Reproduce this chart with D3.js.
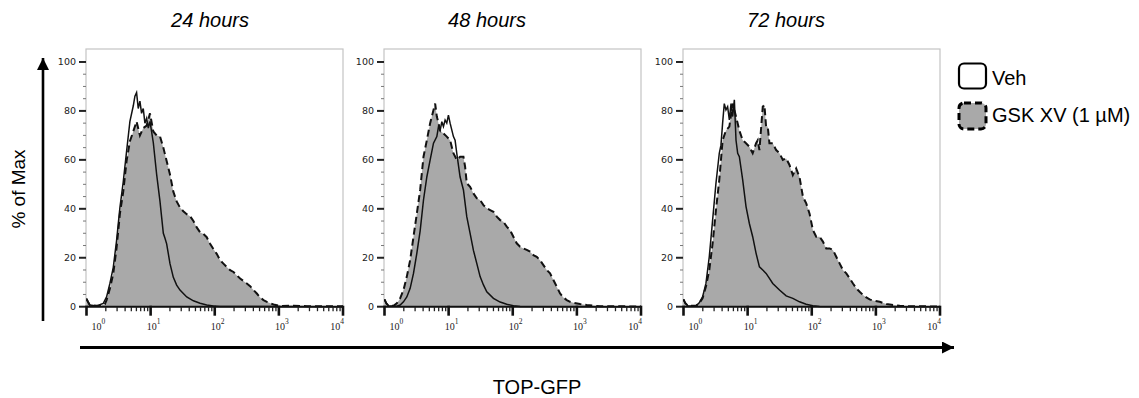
<!DOCTYPE html>
<html>
<head>
<meta charset="utf-8">
<script src="https://cdn.jsdelivr.net/npm/d3@7/dist/d3.min.js"></script>
<style>
  body { margin: 0; background: #fff; }
  svg { display: block; }
</style>
</head>
<body>
<svg id="chart" width="1139" height="398"></svg>
<script>
// time points (one panel each)
const timePoints = ["24 hours", "48 hours", "72 hours"];
const seriesNames = ["Veh", "GSK XV (1 \u00b5M)"];
const yTicks = [0, 20, 40, 60, 80, 100];
const xDecades = [0, 1, 2, 3, 4];

// histograms: [log10 TOP-GFP, % of Max]
const veh24 = [[0,3.4],[0.026,2],[0.052,0.7],[0.156,0.3],[0.26,1.3],[0.313,4],[0.365,9.5],[0.417,16],[0.469,27],[0.521,40.5],[0.573,51],[0.625,63.5],[0.677,75.7],[0.729,82],[0.755,86],[0.781,87.5],[0.807,81],[0.833,84],[0.859,79],[0.885,81],[0.911,75],[0.938,77],[0.964,73],[0.99,75.7],[1.042,67],[1.094,54],[1.146,43],[1.172,36.5],[1.198,30],[1.224,28],[1.25,25.7],[1.302,17.6],[1.354,12],[1.406,8.8],[1.458,6.8],[1.563,4],[1.667,2.4],[1.771,1.4],[1.875,0.7],[1.979,0.3],[2.083,0.1],[4,0]];
const gsk24 = [[0,3],[0.026,1.8],[0.052,0.6],[0.208,0.3],[0.286,1],[0.313,2.7],[0.365,7.4],[0.417,13.5],[0.469,24],[0.521,38],[0.573,47],[0.625,59.5],[0.677,67.6],[0.729,71.6],[0.781,75.7],[0.833,70],[0.885,73],[0.938,74],[0.99,79],[1.042,71.6],[1.094,70],[1.146,69.6],[1.198,65],[1.25,59.5],[1.302,54],[1.354,47],[1.406,43],[1.458,40.5],[1.51,39],[1.563,37.8],[1.615,37],[1.667,35],[1.719,32.4],[1.771,30.4],[1.823,29.7],[1.875,28.4],[1.927,25.7],[1.979,23.6],[2.031,21.6],[2.083,19],[2.135,17.6],[2.188,16.2],[2.24,14.9],[2.292,14.2],[2.344,12.8],[2.396,11.5],[2.448,10.5],[2.5,9.5],[2.552,8.4],[2.604,6.8],[2.656,5.4],[2.708,3.8],[2.76,2.7],[2.813,2],[2.865,1.4],[2.917,0.9],[3.021,0.3],[3.229,0.4],[3.438,0.2],[4,0.2]];
const veh48 = [[0,3],[0.026,1.5],[0.062,0.4],[0.192,0.2],[0.244,0.7],[0.296,2],[0.348,4],[0.4,7.5],[0.452,13.6],[0.504,21.8],[0.556,31],[0.608,43.6],[0.66,53],[0.712,60],[0.764,66.8],[0.816,69.5],[0.842,73.6],[0.868,72],[0.894,75.6],[0.919,73.6],[0.945,76.3],[0.971,75],[0.997,78.3],[1.023,75],[1.075,69.5],[1.101,68],[1.127,62.7],[1.179,53],[1.231,47.7],[1.283,36.8],[1.335,30],[1.387,23],[1.439,17.7],[1.491,12.3],[1.543,8.9],[1.595,6.1],[1.699,3.4],[1.803,1.9],[1.906,1],[2.01,0.4],[2.114,0.1],[4,0]];
const gsk48 = [[0,3],[0.026,1.5],[0.062,0.4],[0.14,0.4],[0.192,1.4],[0.244,3.4],[0.296,6.8],[0.348,12.3],[0.4,19],[0.452,28.6],[0.504,38],[0.556,47.7],[0.608,61.3],[0.66,68],[0.712,75],[0.764,80.4],[0.79,83],[0.816,77.7],[0.842,75],[0.868,72],[0.919,70.8],[0.971,69.5],[1.023,68],[1.075,62.7],[1.127,60],[1.179,61.3],[1.231,61.3],[1.257,57.2],[1.283,50.4],[1.335,49],[1.387,46.3],[1.439,44.3],[1.491,43.6],[1.543,41.5],[1.595,40.2],[1.647,39.5],[1.699,38.8],[1.751,36.8],[1.803,35.4],[1.855,34.7],[1.906,32.7],[1.958,31.3],[2.01,28.6],[2.062,25.9],[2.114,24.5],[2.166,23.8],[2.218,23.2],[2.27,22.5],[2.322,21.1],[2.374,20.4],[2.426,19],[2.478,17],[2.53,15],[2.582,13.6],[2.634,10.9],[2.686,8.2],[2.738,5.4],[2.79,3.8],[2.842,2.7],[2.894,2],[2.946,1.6],[3.049,1.1],[3.153,0.7],[3.257,0.4],[3.361,0.2],[4,0.1]];
const veh72 = [[0,3],[0.026,1.5],[0.068,0.4],[0.193,0.3],[0.245,1.6],[0.297,4],[0.35,9.5],[0.402,20.4],[0.454,35.4],[0.506,50.4],[0.558,62.7],[0.584,66],[0.61,75],[0.636,83],[0.662,80.4],[0.688,81.7],[0.715,76.3],[0.741,83],[0.767,77.7],[0.793,84.5],[0.819,68],[0.845,62.7],[0.871,61.3],[0.923,51.8],[0.975,40.9],[1.027,34],[1.079,28.6],[1.132,21.8],[1.184,16.3],[1.236,15],[1.288,13.6],[1.34,11.6],[1.392,9.5],[1.497,6.8],[1.601,4.4],[1.705,3.4],[1.809,2],[1.913,1],[2.017,0.4],[2.121,0.1],[4,0]];
const gsk72 = [[0,3],[0.026,1.5],[0.068,0.4],[0.193,0.4],[0.245,1.4],[0.297,3.4],[0.35,8.2],[0.402,15],[0.454,25.9],[0.506,39.5],[0.558,51.8],[0.61,68],[0.662,72],[0.715,73.6],[0.767,83],[0.819,77.7],[0.871,72],[0.923,68],[0.975,66.8],[1.027,65.4],[1.079,62.7],[1.132,66.8],[1.158,68],[1.184,64],[1.236,81.7],[1.262,82.4],[1.288,73.6],[1.314,73.6],[1.34,66.8],[1.392,66.8],[1.445,64],[1.497,62.7],[1.549,60],[1.601,60.6],[1.653,57.9],[1.705,53.8],[1.757,56.5],[1.809,53],[1.862,45],[1.914,42.2],[1.966,38],[2.018,31.3],[2.07,28.6],[2.122,28.6],[2.174,26.6],[2.226,23.8],[2.278,23.8],[2.33,23.2],[2.382,20.4],[2.434,17.7],[2.486,15],[2.539,13.6],[2.591,11.6],[2.643,9.5],[2.695,7.5],[2.747,6.1],[2.799,4.8],[2.851,3.8],[2.903,3],[2.955,2.5],[3.06,2],[3.164,1.1],[3.268,0.7],[3.372,0.4],[3.476,0.2],[4,0.1]];

const vehSeries = [veh24, veh48, veh72];
const gskSeries = [gsk24, gsk48, gsk72];

// layout
const panelLeft = [86, 384, 683];
const titleX = [210, 487, 786];
const panelW = 257;
const panelTop = 49, panelBottom = 306.7;
const fillGray = "#a9a9a9";
const tickFont = "DejaVu Sans, sans-serif";

const svg = d3.select("#chart");

let x = d3.scaleLog().domain([1, 1e4]).range([0.5, panelW]);
let y = d3.scaleLinear().domain([0, 105.3]).range([panelBottom, panelTop]);

let area = d3.area()
  .x(d => x(Math.pow(10, d[0])))
  .y0(y(0))
  .y1(d => y(d[1]));
let line = d3.line()
  .x(d => x(Math.pow(10, d[0])))
  .y(d => y(d[1]));

svg.append("defs").append("clipPath").attr("id", "plotclip")
  .append("rect")
  .attr("x", 0).attr("y", panelTop)
  .attr("width", panelW).attr("height", panelBottom - panelTop + 1);

timePoints.forEach((name, i) => {
  let g = svg.append("g").attr("transform", "translate(" + panelLeft[i] + ",0)");

  // title
  svg.append("text")
    .attr("x", titleX[i]).attr("y", 27)
    .attr("text-anchor", "middle")
    .style("font-family", "Liberation Sans, Arial, sans-serif")
    .style("font-size", "20px")
    .style("font-style", "italic")
    .text(name);

  // frame
  g.append("rect")
    .attr("x", 0).attr("y", panelTop)
    .attr("width", panelW).attr("height", panelBottom - panelTop)
    .attr("fill", "#fff")
    .attr("stroke", "#c4c4c4")
    .attr("stroke-width", 1.2);

  let plot = g.append("g").attr("clip-path", "url(#plotclip)");

  // GSK XV: gray fill with dashed outline
  plot.append("path")
    .datum(gskSeries[i])
    .attr("d", area)
    .attr("fill", fillGray);
  plot.append("path")
    .datum(gskSeries[i])
    .attr("d", line)
    .attr("fill", "none")
    .attr("stroke", "#111")
    .attr("stroke-width", 2)
    .attr("stroke-dasharray", "7,4");

  // Veh: solid line
  plot.append("path")
    .datum(vehSeries[i])
    .attr("d", line)
    .attr("fill", "none")
    .attr("stroke", "#111")
    .attr("stroke-width", 1.5);

  // y axis ticks
  let minorY = d3.range(0, 101, 5).filter(v => v % 20 != 0);
  g.selectAll(".ymin").data(minorY).enter().append("line")
    .attr("x1", -3).attr("x2", 0)
    .attr("y1", d => y(d)).attr("y2", d => y(d))
    .attr("stroke", "#777").attr("stroke-width", 1);
  g.selectAll(".ymaj").data(yTicks).enter().append("line")
    .attr("x1", -7).attr("x2", 0)
    .attr("y1", d => y(d)).attr("y2", d => y(d))
    .attr("stroke", "#222").attr("stroke-width", 2);
  g.selectAll(".ylab").data(yTicks).enter().append("text")
    .attr("x", -10).attr("y", d => y(d))
    .attr("dy", "0.35em")
    .attr("text-anchor", "end")
    .style("font-family", tickFont)
    .style("font-size", "9.5px")
    .attr("fill", "#222")
    .text(d => d);

  // x axis baseline
  g.append("line")
    .attr("x1", 0).attr("x2", panelW)
    .attr("y1", panelBottom).attr("y2", panelBottom)
    .attr("stroke", "#111").attr("stroke-width", 2);

  // x axis ticks
  let minorX = [];
  for (let e = 0; e < 4; e++) {
    for (let m = 2; m <= 9; m++) minorX.push(m * Math.pow(10, e));
  }
  g.selectAll(".xmin").data(minorX).enter().append("line")
    .attr("x1", d => x(d)).attr("x2", d => x(d))
    .attr("y1", panelBottom).attr("y2", panelBottom + 4.5)
    .attr("stroke", "#222").attr("stroke-width", 1.3);
  g.selectAll(".xmaj").data(xDecades).enter().append("line")
    .attr("x1", d => x(Math.pow(10, d))).attr("x2", d => x(Math.pow(10, d)))
    .attr("y1", panelBottom - 1).attr("y2", panelBottom + 9)
    .attr("stroke", "#111").attr("stroke-width", 2.6);

  let xl = g.selectAll(".xlab").data(xDecades).enter().append("text")
    .attr("x", (d, j) => x(Math.pow(10, d)) + (j == 0 ? 5 : (j == xDecades.length - 1 ? 1 : -4)))
    .attr("y", 330)
    .attr("text-anchor", (d, j) => j == xDecades.length - 1 ? "end" : "start")
    .style("font-family", "Liberation Serif, Times New Roman, serif")
    .style("font-size", "10px")
    .attr("fill", "#222");
  xl.append("tspan").text("10");
  xl.append("tspan").attr("dy", -6).style("font-size", "7.5px").text(d => d);
});

// big axis arrows
svg.append("defs").append("marker")
  .attr("id", "arrow")
  .attr("viewBox", "0 0 12 12")
  .attr("refX", 12).attr("refY", 6)
  .attr("markerWidth", 12).attr("markerHeight", 12)
  .attr("markerUnits", "userSpaceOnUse")
  .attr("orient", "auto")
  .append("path").attr("d", "M0,0L12,6L0,12Z").attr("fill", "#000");

svg.append("line")
  .attr("x1", 43).attr("x2", 43).attr("y1", 321).attr("y2", 58)
  .attr("stroke", "#000").attr("stroke-width", 2.6)
  .attr("marker-end", "url(#arrow)");
svg.append("line")
  .attr("x1", 80).attr("x2", 954).attr("y1", 347.5).attr("y2", 347.5)
  .attr("stroke", "#000").attr("stroke-width", 2.8)
  .attr("marker-end", "url(#arrow)");

svg.append("text")
  .attr("transform", "translate(25,189) rotate(-90)")
  .attr("text-anchor", "middle")
  .style("font-family", "Liberation Sans, Arial, sans-serif")
  .style("font-size", "19px")
  .text("% of Max");

svg.append("text")
  .attr("x", 537).attr("y", 394)
  .attr("text-anchor", "middle")
  .style("font-family", "Liberation Sans, Arial, sans-serif")
  .style("font-size", "20px")
  .text("TOP-GFP");

// legend
let legend = svg.append("g");
legend.append("rect")
  .attr("x", 959).attr("y", 63.5).attr("width", 27).attr("height", 25)
  .attr("rx", 5)
  .attr("fill", "#fff").attr("stroke", "#000").attr("stroke-width", 2.2);
legend.append("rect")
  .attr("x", 959).attr("y", 103).attr("width", 27).attr("height", 26)
  .attr("rx", 5)
  .attr("fill", fillGray).attr("stroke", "#000").attr("stroke-width", 3)
  .attr("stroke-dasharray", "7,4");
legend.selectAll(".lt").data(seriesNames).enter().append("text")
  .attr("x", 992)
  .attr("y", (d, i) => i == 0 ? 85 : 122)
  .style("font-family", "Liberation Sans, Arial, sans-serif")
  .style("font-size", "20px")
  .text(d => d);
</script>
</body>
</html>
